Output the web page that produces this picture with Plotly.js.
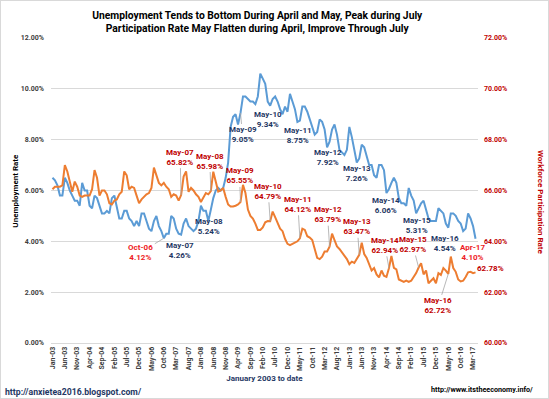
<!DOCTYPE html>
<html><head><meta charset="utf-8">
<script src="https://cdn.plot.ly/plotly-3.0.1.min.js"></script>
<style>html,body{margin:0;padding:0;background:#fff}#chart{width:549px;height:399px}#frame{position:absolute;left:0;top:0;width:547px;height:397px;border:1px solid #d9d9d9;pointer-events:none}</style>
</head><body><div id="chart"></div><div id="frame"></div>
<script>
// Month categories Jan-03 .. Apr-17
const monthNames = ['Jan','Feb','Mar','Apr','May','Jun','Jul','Aug','Sep','Oct','Nov','Dec'];
const months = [];
for (let y = 3; y <= 17; y++) for (let m = 0; m < 12; m++) { if (y === 17 && m > 3) break; months.push(monthNames[m] + '-' + String(y).padStart(2,'0')); }

// Unemployment rate (NSA, %), left axis
const unemployment = [
 6.5,6.4,6.2,5.8,5.8,6.5,6.3,6.0,5.8,5.6,5.6,5.4,
 6.3,6.0,6.0,5.4,5.3,5.8,5.7,5.4,5.1,5.1,5.2,5.1,
 5.7,5.8,5.4,4.9,4.9,5.2,5.2,4.9,4.8,4.6,4.8,4.6,
 5.1,5.1,4.8,4.5,4.4,4.8,5.0,4.6,4.4,4.12,4.3,4.3,
 5.0,4.9,4.5,4.3,4.26,4.7,4.9,4.6,4.5,4.4,4.5,4.8,
 5.4,5.2,5.2,4.8,5.24,5.7,6.0,6.1,6.0,6.1,6.5,7.1,
 8.5,8.9,9.0,8.6,9.05,9.7,9.7,9.6,9.5,9.5,9.4,9.7,
 10.6,10.4,10.2,9.5,9.34,9.6,9.7,9.5,9.2,9.0,9.3,9.1,
 9.8,9.5,9.2,8.7,8.75,9.3,9.3,9.1,8.8,8.5,8.2,8.3,
 8.8,8.7,8.4,7.7,7.92,8.4,8.6,8.2,7.6,7.5,7.4,7.6,
 8.5,8.1,7.6,7.1,7.26,7.8,7.7,7.3,7.0,7.0,6.6,6.5,
 7.0,7.0,6.8,5.9,6.06,6.3,6.5,6.3,5.7,5.5,5.5,5.4,
 6.1,5.8,5.6,5.1,5.31,5.5,5.6,5.2,4.9,4.8,4.8,4.8,
 5.3,5.2,5.1,4.7,4.54,5.1,5.1,5.0,4.8,4.7,4.4,4.5,
 5.1,4.9,4.6,4.10
];

// Workforce participation rate (NSA, %), right axis
const participation = [
 66.05,66.15,66.15,66.15,66.2,67.0,66.75,66.3,65.95,66.35,66.15,65.8,
 65.75,65.8,65.8,65.8,66.05,66.8,66.5,65.8,66.0,66.0,65.85,65.5,
 65.45,65.6,65.65,65.85,65.95,66.75,66.6,66.05,66.15,66.1,65.8,65.5,
 65.65,65.75,65.85,65.9,66.1,66.9,66.55,66.3,66.2,66.3,66.15,66.05,
 65.75,65.85,65.8,65.6,65.82,66.55,66.75,65.95,66.1,66.0,65.85,65.75,
 65.55,65.7,65.9,65.85,65.98,66.74,66.4,65.96,66.0,66.1,65.75,65.45,
 65.37,65.37,65.4,65.45,65.55,66.22,65.9,65.25,65.0,64.9,64.7,64.45,
 64.45,64.55,64.75,64.8,64.79,65.17,64.95,64.75,64.5,64.4,64.1,63.9,
 63.85,63.9,63.95,64.0,64.12,64.5,64.45,64.2,64.15,64.05,63.7,63.35,
 63.3,63.4,63.6,63.6,63.79,64.3,64.05,63.8,63.7,63.56,63.4,63.3,
 63.1,63.2,63.15,63.3,63.47,63.95,63.5,63.35,63.1,62.85,62.95,62.7,
 62.58,62.85,62.65,62.6,62.94,63.42,62.96,62.9,62.5,62.45,62.4,62.45,
 62.4,62.45,62.6,62.75,62.97,63.14,62.7,62.85,62.35,62.45,62.55,62.35,
 62.75,62.68,62.95,62.85,62.72,63.4,62.95,62.8,62.5,62.42,62.45,62.6,
 62.78,62.8,62.75,62.78
];

// Tick labels every 5 months
const tickLabels = ['Jan-03','Jun-03','Nov-03','Apr-04','Sep-04','Feb-05','Jul-05','Dec-05','May-06','Oct-06','Mar-07','Aug-07','Jan-08','Jun-08','Nov-08','Apr-09','Sep-09','Feb-10','Jul-10','Dec-10','May-11','Oct-11','Mar-12','Aug-12','Jan-13','Jun-13','Nov-13','Apr-14','Sep-14','Feb-15','Jul-15','Dec-15','May-16','Oct-16','Mar-17'];

// Labelled points
const uLabelMonths = ['Oct-06','May-07','May-08','May-09','May-10','May-11','May-12','May-13','May-14','May-15','May-16','Apr-17'];
const uLabelValues = [4.12,4.26,5.24,9.05,9.34,8.75,7.92,7.26,6.06,5.31,4.54,4.10];
const pLabelMonths = ['May-07','May-08','May-09','May-10','May-11','May-12','May-13','May-14','May-15','May-16','Apr-17'];
const pLabelValues = [65.82,65.98,65.55,64.79,64.12,63.79,63.47,62.94,62.97,62.72,62.78];

// label styling (offsets in px, colors, leader lines)
const uOffsets = [[-23,14],[-1,16],[-2,17],[2,22],[-2,14],[-2,15],[-2,16],[-2,15],[-3,17],[-2,17],[-3,16],[-3,14]];
const uColors = ['#ee1c25','#1f3864','#1f3864','#1f3864','#1f3864','#1f3864','#1f3864','#1f3864','#1f3864','#1f3864','#1f3864','#ee1c25'];
const uLeader = [true,false,false,true,false,false,false,false,false,false,false,false];
const pOffsets = [[-1,-38],[-1,-30],[-1,-26],[-2,-30],[-2,-34],[-2,-32],[-2,-28],[-4,-23],[-6,-23],[-10,32],[15,-4]];

const idx = months.map((_, i) => i);
const FONT = 'Liberation Sans Narrow, Roboto, Lato, sans-serif';
const RED = '#c00000';

const annotations = [];
uLabelMonths.forEach((m, i) => {
  annotations.push({
    x: months.indexOf(m), y: uLabelValues[i], xref: 'x', yref: 'y',
    text: m + '<br>' + uLabelValues[i].toFixed(2) + '%',
    showarrow: true, ax: uOffsets[i][0], ay: uOffsets[i][1], arrowhead: 0, arrowwidth: 0.8, standoff: 0,
    arrowcolor: uLeader[i] ? '#a6a6a6' : 'rgba(0,0,0,0)',
    font: {family: FONT, size: 8, color: uColors[i], weight: 'bold'}, align: 'center'
  });
});
pLabelMonths.forEach((m, i) => {
  const last = i === pLabelMonths.length - 1;
  annotations.push({
    x: months.indexOf(m), y: pLabelValues[i], xref: 'x', yref: 'y2',
    text: (last ? '' : m + '<br>') + pLabelValues[i].toFixed(2) + '%',
    showarrow: true, ax: pOffsets[i][0], ay: pOffsets[i][1], arrowhead: 0, arrowwidth: 0.8, standoff: 0,
    arrowcolor: last ? 'rgba(0,0,0,0)' : '#a6a6a6',
    font: {family: FONT, size: 8, color: RED, weight: 'bold'}, align: 'center'
  });
});
annotations.push({xref:'paper', yref:'paper', x: -0.084, y: 0.5, xanchor: 'center', yanchor: 'middle', text: 'Unemployment Rate', textangle: -90, showarrow: false,
  font: {family: FONT, size: 8, color: '#000', weight: 'bold'}});
annotations.push({xref:'paper', yref:'paper', x: 1.16, y: 0.46, text: 'Workforce Participation Rate', textangle: 90, showarrow: false,
  font: {family: FONT, size: 8, color: RED, weight: 'bold'}});
annotations.push({xref:'paper', yref:'paper', x: -0.113, y: -0.162, xanchor: 'left', yanchor: 'middle', text: 'http://anxietea2016.blogspot.com/', showarrow: false,
  font: {family: FONT, size: 8.7, color: '#1f3864', weight: 'bold'}});
annotations.push({xref:'paper', yref:'paper', x: 1.133, y: -0.151, xanchor: 'right', yanchor: 'middle', text: 'http://www.itstheeconomy.info/', showarrow: false,
  font: {family: FONT, size: 7.2, color: '#000', weight: 'bold'}});

const data = [
  {x: idx, y: unemployment, type: 'scatter', mode: 'lines', name: 'Unemployment Rate', line: {color: '#5b9bd5', width: 2}, hoverinfo: 'skip'},
  {x: idx, y: participation, type: 'scatter', mode: 'lines', name: 'Participation Rate', yaxis: 'y2', line: {color: '#ed7d31', width: 2}, hoverinfo: 'skip'}
];

const layout = {
  width: 549, height: 399,
  margin: {l: 51, r: 71, t: 38, b: 56},
  paper_bgcolor: '#fff', plot_bgcolor: '#fff',
  showlegend: false,
  font: {family: FONT, size: 7, color: '#404040'},
  title: {text: 'Unemployment Tends to Bottom During April and May, Peak during July<br>Participation Rate May Flatten during April, Improve Through July',
    x: 0.483, xanchor: 'center', xref: 'paper', y: 0.953, yref: 'container', yanchor: 'middle', font: {family: FONT, size: 10.3, color: '#000', weight: 'bold'}},
  xaxis: {range: [-0.6, 172], tickvals: tickLabels.map(t => months.indexOf(t)), ticktext: tickLabels, tickangle: -90,
    showgrid: false, zeroline: false, showline: true, linecolor: '#d9d9d9', ticks: '',
    tickfont: {family: FONT, size: 7, color: '#404040', weight: 'bold'},
    title: {text: 'January 2003 to date', font: {family: FONT, size: 8, color: '#1f3864', weight: 'bold'}, standoff: 5}},
  yaxis: {range: [0, 12], dtick: 2, tickformat: '.2f', ticksuffix: '%', gridcolor: '#d9d9d9', gridwidth: 1, zeroline: false, showline: false,
    ticks: '', ticklabelstandoff: 6, tickfont: {family: FONT, size: 7, color: '#404040', weight: 'bold'}},
  yaxis2: {range: [60, 72], dtick: 2, tickformat: '.2f', ticksuffix: '%', overlaying: 'y', side: 'right', showgrid: false, zeroline: false,
    ticks: '', ticklabelstandoff: 5, tickfont: {family: FONT, size: 7, color: RED, weight: 'bold'}},
  annotations: annotations
};

Plotly.newPlot('chart', data, layout, {displayModeBar: false, staticPlot: true});
</script></body></html>
